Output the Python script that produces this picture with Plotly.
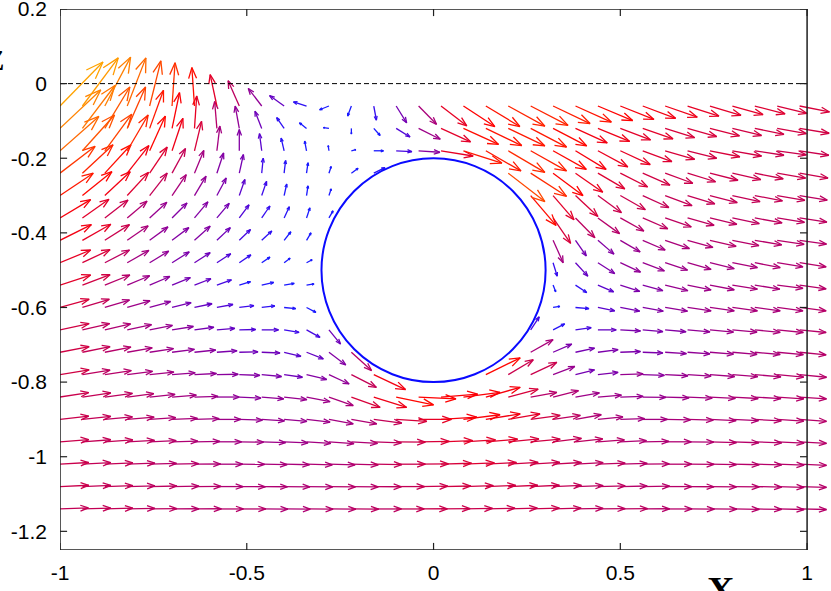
import numpy as np
import plotly.graph_objects as go

# ---------------- data (arrow tails on a regular grid, components in units of 0.01) -------------
x_grid = [-1.00, -0.94, -0.88, -0.82, -0.76, -0.70, -0.64, -0.58, -0.52, -0.46, -0.40, -0.34,
          -0.28, -0.22, -0.16, -0.10, -0.04, 0.02, 0.08, 0.14, 0.20, 0.26, 0.32, 0.38, 0.44,
          0.50, 0.56, 0.62, 0.68, 0.74, 0.80, 0.86, 0.92, 0.98]
y_grid = [-0.06, -0.12, -0.18, -0.24, -0.30, -0.36, -0.42, -0.48, -0.54, -0.60, -0.66, -0.72,
          -0.78, -0.84, -0.90, -0.96, -1.02, -1.08, -1.14]
N = None

u_r01 = [11.5, 9.6, 6.9, 5.0, 3.0, 0.8, -0.7, -1.8, -3.0, -3.6, -3.9, -3.5, -2.5, -1.0, 0.7, 2.8, 4.8,
         6.9, 8.4, 9.1, 9.8, 10.0, 9.9, 9.6, 9.3, 9.0, 8.8, 8.6, 8.4, 8.3, 8.2, 8.1, 8.0, 8.0]
v_r01 = [11.8, 12.9, 13.1, 12.9, 12.1, 11.6, 10.3, 8.4, 6.8, 4.7, 2.8, 1.1, -1.0, -2.7, -3.8, -4.5, -4.9,
         -5.3, -5.5, -5.5, -5.4, -5.2, -4.7, -4.3, -3.9, -3.6, -3.3, -3.0, -2.7, -2.5, -2.3, -2.1, -2.0, -1.6]
u_r02 = [10.9, 8.7, 6.7, 4.9, 3.7, 2.0, 0.6, -0.6, -1.1, -1.8, -2.0, -1.9, -1.5, 0.0, 1.7, 3.7, 5.8,
         7.9, 9.4, 9.6, 9.8, 9.6, 9.0, 8.5, 8.5, 8.1, 8.1, 7.9, 7.8, 7.9, 7.8, 7.8, 7.8, 7.9]
v_r02 = [10.3, 11.5, 11.1, 11.1, 10.2, 9.6, 8.7, 7.2, 6.0, 4.6, 2.9, 1.5, 0.2, -1.5, -1.9, -2.3, -2.9,
         -3.6, -4.3, -4.6, -4.7, -5.0, -4.7, -3.9, -3.5, -3.1, -2.8, -2.5, -2.2, -2.0, -1.9, -1.6, -1.4, -1.3]
u_r03 = [10.4, 8.6, 7.2, 5.6, 4.2, 2.9, 1.9, 0.8, 0.0, -0.6, -0.8, -0.5, -0.2, 1.2, 2.6, 4.2, 5.7,
         8.6, 10.3, 9.4, 9.8, 9.6, 8.9, 8.2, 8.0, 8.0, 7.8, 7.9, 7.8, 8.0, 7.8, 7.8, 7.8, 7.8]
v_r03 = [9.2, 9.6, 9.8, 9.6, 9.3, 8.7, 7.9, 6.6, 5.7, 4.6, 3.4, 2.6, 1.4, 0.3, 0.0, -0.2, -0.4,
         -1.4, -3.3, -5.4, -5.8, -5.4, -5.0, -5.0, -4.3, -3.7, -2.9, -2.3, -2.0, -1.6, -1.4, -1.2, -1.1, -1.2]
u_r04 = [9.4, 8.2, 7.0, 5.8, 4.7, 3.6, 2.5, 1.8, 1.1, 0.4, 0.4, 0.4, 0.6, 1.8, 3.0, N, N, N, N, N,
         9.8, 9.6, 8.0, 7.3, 7.2, 7.3, 7.3, 7.4, 7.5, 7.5, 7.6, 7.6, 7.6, 7.6]
v_r04 = [7.2, 7.6, 7.6, 7.4, 7.0, 6.6, 6.1, 5.4, 5.0, 4.0, 3.4, 2.8, 1.8, 1.3, 1.5, N, N, N, N, N,
         -7.6, -6.2, -6.0, -5.1, -4.2, -3.7, -3.2, -2.7, -2.3, -1.9, -1.7, -1.5, -1.3, -1.3]
u_r05 = [8.9, 7.9, 6.8, 5.7, 4.7, 3.8, 3.1, 2.5, 1.5, 1.3, 0.7, 0.4, 0.6, N, N, N, N, N, N, N, N,
         6.8, 5.6, 6.0, 6.3, 6.7, 7.0, 7.2, 7.3, 7.3, 7.4, 7.4, 7.4, 7.4]
v_r05 = [6.0, 6.4, 6.4, 6.2, 6.0, 5.6, 5.2, 4.7, 4.3, 3.8, 3.1, 2.6, 1.8, N, N, N, N, N, N, N, N,
         -8.0, -6.5, -5.6, -4.6, -3.8, -3.2, -2.7, -2.2, -1.9, -1.6, -1.4, -1.3, -1.2]
u_r06 = [8.2, 7.1, 6.2, 5.3, 4.6, 4.0, 3.6, 3.3, 2.6, 2.2, 1.4, 0.9, 1.1, N, N, N, N, N, N, N, N, N,
         4.7, 5.2, 5.8, 6.3, 6.7, 7.0, 7.1, 7.2, 7.2, 7.3, 7.3, 7.3]
v_r06 = [4.9, 5.0, 4.8, 4.5, 4.2, 4.0, 4.3, 3.9, 3.5, 3.2, 3.0, 2.7, 1.9, N, N, N, N, N, N, N, N, N,
         -6.8, -5.3, -4.2, -3.5, -2.9, -2.4, -2.0, -1.7, -1.5, -1.3, -1.2, -1.1]
u_r07 = [8.4, 7.6, 6.6, 5.6, 4.9, 4.5, 4.2, 3.6, 3.0, 2.7, 1.8, 1.2, N, N, N, N, N, N, N, N, N, N,
         2.7, 2.9, 4.3, 5.3, 6.0, 6.5, 6.8, 7.0, 7.1, 7.2, 7.2, 7.2]
v_r07 = [4.2, 4.3, 4.2, 3.9, 3.6, 3.4, 3.8, 3.4, 2.9, 2.5, 2.3, 2.0, N, N, N, N, N, N, N, N, N, N,
         -6.0, -4.2, -3.7, -3.1, -2.6, -2.2, -1.9, -1.6, -1.4, -1.2, -1.1, -1.0]
u_r08 = [8.2, 7.4, 6.6, 5.8, 5.1, 4.6, 4.2, 3.7, 3.1, 2.2, 1.6, 1.5, N, N, N, N, N, N, N, N, N, N,
         1.1, 3.3, 4.5, 5.4, 5.8, 6.0, 6.3, 6.5, 6.7, 6.8, 6.9, 7.1]
v_r08 = [3.4, 3.5, 3.4, 3.3, 3.1, 2.9, 2.7, 2.4, 2.1, 1.5, 1.2, 0.8, N, N, N, N, N, N, N, N, N, N,
         -3.6, -3.6, -2.9, -2.5, -2.2, -2.0, -1.8, -1.6, -1.3, -1.3, -1.1, -1.1]
u_r09 = [8.2, 7.4, 6.7, 6.0, 5.4, 4.9, 4.4, 3.9, 3.0, 3.2, 2.7, 2.0, N, N, N, N, N, N, N, N, N, N,
         0.7, 3.0, 4.2, 5.2, 5.4, 6.1, 6.3, 6.5, 6.7, 6.7, 6.9, 7.1]
v_r09 = [2.7, 2.8, 2.7, 2.5, 2.3, 2.0, 1.7, 1.4, 0.9, 0.7, 0.45, 0.3, N, N, N, N, N, N, N, N, N, N,
         -1.8, -2.0, -1.8, -1.7, -1.5, -1.5, -1.3, -1.25, -1.1, -1.1, -0.9, -1.0]
u_r10 = [7.8, 7.2, 6.6, 6.1, 5.6, 5.1, 4.7, 4.3, 3.9, 3.5, 3.1, 2.5, N, N, N, N, N, N, N, N, N, N,
         1.8, 3.6, 4.5, 5.2, 5.5, 6.0, 6.3, 6.5, 6.7, 6.8, 6.9, 7.1]
v_r10 = [2.2, 2.2, 2.0, 1.8, 1.6, 1.3, 1.0, 0.8, 0.5, 0.45, -0.3, -1.3, N, N, N, N, N, N, N, N, N, N,
         0.3, -0.3, -0.9, -1.0, -1.0, -1.0, -0.9, -0.9, -0.9, -0.9, -0.9, -0.9]
u_r11 = [7.8, 7.3, 6.9, 6.5, 6.1, 5.7, 5.2, 4.8, 4.4, 4.5, 4.0, 3.6, 3.1, N, N, N, N, N, N, N, N,
         2.3, 3.1, 4.2, 4.9, 5.4, 5.4, 5.6, 6.0, 6.3, 6.6, 6.8, 7.0, 7.1]
v_r11 = [1.7, 1.7, 1.6, 1.4, 1.2, 0.9, 0.7, 0.4, 0.1, 0.0, -0.7, -2.0, -3.8, N, N, N, N, N, N, N, N,
         3.5, 1.6, 0.6, 0.0, -0.3, -0.45, -0.5, -0.55, -0.6, -0.6, -0.65, -0.7, -0.7]
u_r12 = [7.8, 7.4, 7.0, 6.7, 6.4, 6.0, 5.7, 5.4, 5.0, 4.9, 4.5, 4.5, 4.5, 5.4, N, N, N, N, N, N, N,
         6.0, 5.0, 5.1, 5.4, 5.4, 5.4, 5.7, 6.0, 6.3, 6.6, 6.8, 7.0, 7.1]
v_r12 = [1.5, 1.5, 1.4, 1.2, 1.0, 0.8, 0.6, 0.4, 0.1, -0.2, -1.1, -1.8, -3.4, -4.9, N, N, N, N, N, N, N,
         3.4, 2.2, 1.1, 0.7, 0.2, -0.2, -0.35, -0.45, -0.5, -0.55, -0.6, -0.65, -0.7]
u_r13 = [7.8, 7.4, 7.1, 6.8, 6.5, 6.2, 5.9, 5.7, 5.5, 5.3, 4.9, 5.4, 5.4, 6.7, 8.5, N, N, N, N,
         9.2, 6.7, 7.0, 5.8, 5.1, 5.4, 6.1, 5.8, 6.1, 6.3, 6.6, 6.8, 7.0, 7.1, 7.2]
v_r13 = [1.3, 1.2, 1.1, 0.9, 0.7, 0.5, 0.3, 0.1, -0.2, -0.5, -0.7, -1.3, -2.5, -3.4, -4.0, N, N, N, N,
         4.5, 4.0, 3.3, 2.2, 1.3, 0.6, 0.2, -0.2, -0.3, -0.4, -0.5, -0.55, -0.6, -0.65, -0.7]
u_r14 = [7.7, 7.6, 7.4, 7.1, 6.8, 6.5, 6.3, 6.0, 5.8, 5.9, 6.1, 6.3, 6.5, 7.7, 8.8, 10.0, 10.0,
         9.8, 9.8, 9.2, 8.0, 7.0, 6.8, 6.4, 6.3, 6.1, 6.2, 6.4, 6.6, 6.8, 6.9, 7.0, 7.1, 7.2]
v_r14 = [1.2, 1.1, 1.0, 0.9, 0.7, 0.5, 0.2, 0.0, -0.3, -0.5, -0.7, -1.25, -2.3, -2.8, -2.8, -2.1, -0.5,
         0.8, 1.25, 2.6, 2.1, 1.25, 1.7, 1.1, 0.5, 0.2, -0.1, -0.2, -0.3, -0.35, -0.4, -0.45, -0.5, -0.5]
u_r15 = [7.7, 7.6, 7.4, 7.2, 7.0, 6.8, 6.6, 6.4, 6.2, 6.1, 6.1, 6.3, 6.5, 6.8, 7.5, 8.2, 8.8,
         9.6, 9.8, 9.2, 8.5, 7.9, 7.3, 6.9, 6.7, 6.5, 6.6, 6.8, 6.9, 7.0, 7.0, 7.1, 7.1, 7.2]
v_r15 = [0.9, 0.8, 0.7, 0.6, 0.5, 0.3, 0.2, 0.0, -0.2, -0.4, -0.5, -0.7, -1.2, -1.2, -1.0, -0.5, 0.0,
         0.6, 1.25, 1.5, 1.5, 1.1, 1.1, 1.25, 0.7, 0.2, 0.0, -0.1, -0.2, -0.3, -0.35, -0.4, -0.45, -0.5]
u_r16 = [7.7, 7.6, 7.5, 7.3, 7.1, 6.9, 6.8, 6.6, 6.5, 6.4, 6.4, 6.5, 6.7, 7.0, 7.4, 7.8, 8.2,
         8.5, 8.6, 8.5, 8.2, 7.9, 7.6, 7.3, 7.1, 7.0, 7.0, 7.0, 7.0, 7.1, 7.1, 7.2, 7.2, 7.2]
v_r16 = [0.6, 0.55, 0.5, 0.4, 0.3, 0.2, 0.1, 0.0, -0.1, -0.2, -0.3, -0.4, -0.5, -0.4, -0.3, -0.1, 0.1,
         0.3, 0.5, 0.7, 0.8, 0.7, 0.9, 0.8, 0.5, 0.3, 0.1, 0.0, -0.1, -0.2, -0.25, -0.3, -0.35, -0.4]
u_r17 = [7.7, 7.6, 7.5, 7.4, 7.2, 7.1, 7.0, 6.9, 6.8, 6.8, 6.8, 6.9, 7.0, 7.2, 7.5, 7.8, 8.0,
         8.2, 8.3, 8.2, 8.0, 7.8, 7.6, 7.4, 7.3, 7.2, 7.1, 7.1, 7.1, 7.1, 7.2, 7.2, 7.2, 7.2]
v_r17 = [0.45, 0.4, 0.35, 0.3, 0.2, 0.15, 0.05, 0.0, -0.05, -0.1, -0.15, -0.2, -0.2, -0.2, -0.1, 0.0,
         0.1, 0.25, 0.35, 0.45, 0.5, 0.5, 0.45, 0.4, 0.3, 0.2, 0.1, 0.0, -0.05, -0.1, -0.15, -0.2, -0.25, -0.3]
u_r18 = [7.7, 7.6, 7.5, 7.4, 7.3, 7.2, 7.1, 7.0, 7.0, 6.9, 6.9, 7.0, 7.1, 7.2, 7.4, 7.6, 7.8,
         8.0, 8.0, 8.0, 7.9, 7.7, 7.6, 7.4, 7.3, 7.2, 7.2, 7.1, 7.1, 7.1, 7.2, 7.2, 7.2, 7.2]
v_r18 = [0.35, 0.3, 0.25, 0.2, 0.15, 0.1, 0.05, 0.0, -0.05, -0.05, -0.1, -0.1, -0.1, -0.1, -0.05, 0.0,
         0.1, 0.15, 0.25, 0.3, 0.35, 0.35, 0.3, 0.25, 0.2, 0.15, 0.1, 0.0, -0.05, -0.1, -0.1, -0.15, -0.2, -0.2]
u_r19 = [7.6, 7.6, 7.5, 7.4, 7.3, 7.2, 7.2, 7.1, 7.1, 7.0, 7.0, 7.1, 7.2, 7.3, 7.4, 7.5, 7.7,
         7.8, 7.8, 7.8, 7.8, 7.7, 7.5, 7.4, 7.3, 7.3, 7.2, 7.2, 7.2, 7.2, 7.2, 7.2, 7.2, 7.2]
v_r19 = [0.3, 0.25, 0.2, 0.15, 0.1, 0.05, 0.05, 0.0, 0.0, -0.05, -0.05, -0.05, -0.05, -0.05, 0.0, 0.0,
         0.05, 0.1, 0.15, 0.2, 0.2, 0.25, 0.2, 0.15, 0.1, 0.1, 0.05, 0.0, -0.05, -0.05, -0.1, -0.1, -0.15, -0.15]

U_ROWS = [u_r01, u_r02, u_r03, u_r04, u_r05, u_r06, u_r07, u_r08, u_r09, u_r10,
          u_r11, u_r12, u_r13, u_r14, u_r15, u_r16, u_r17, u_r18, u_r19]
V_ROWS = [v_r01, v_r02, v_r03, v_r04, v_r05, v_r06, v_r07, v_r08, v_r09, v_r10,
          v_r11, v_r12, v_r13, v_r14, v_r15, v_r16, v_r17, v_r18, v_r19]
UNIT = 0.01

x_ticks = [-1, -0.5, 0, 0.5, 1]
x_tick_text = ["-1", "-0.5", "0", "0.5", "1"]
y_ticks = [0.2, 0, -0.2, -0.4, -0.6, -0.8, -1, -1.2]
y_tick_text = ["0.2", "0", "-0.2", "-0.4", "-0.6", "-0.8", "-1", "-1.2"]

cyl_center = (0.0, -0.5)
cyl_radius = 0.3
surface_y = 0.0

# ---------------- colour map: arrow length -> palette (blue -> purple -> red -> orange) ----------------
stop_len = [3.0, 4.0, 5.0, 6.0, 7.0, 7.6, 8.5, 10.0, 12.5, 16.5]
stop_rgb = [(25, 25, 255), (60, 10, 235), (110, 0, 185), (145, 0, 150), (175, 0, 115),
            (195, 0, 85), (225, 0, 45), (255, 0, 0), (255, 75, 0), (255, 165, 0)]


def colour_for(L):
    r = np.interp(L, stop_len, [c[0] for c in stop_rgb])
    g = np.interp(L, stop_len, [c[1] for c in stop_rgb])
    b = np.interp(L, stop_len, [c[2] for c in stop_rgb])
    return "rgb(%d,%d,%d)" % (round(r), round(g), round(b))


# ---------------- build arrow geometry ----------------
HEAD_FRAC = 0.3
HEAD_ANG = np.deg2rad(20)
bins = {}
for yv, urow, vrow in zip(y_grid, U_ROWS, V_ROWS):
    for xv, u, v in zip(x_grid, urow, vrow):
        if u is None or v is None:
            continue
        L = float(np.hypot(u, v))
        key = round(L * 5) / 5.0
        du, dv = u * UNIT, v * UNIT
        tx, ty = xv + du, yv + dv
        th = np.arctan2(dv, du)
        h = HEAD_FRAC * L * UNIT
        b1 = (tx - h * np.cos(th - HEAD_ANG), ty - h * np.sin(th - HEAD_ANG))
        b2 = (tx - h * np.cos(th + HEAD_ANG), ty - h * np.sin(th + HEAD_ANG))
        xs, ys = bins.setdefault(key, ([], []))
        xs += [xv, tx, None, b1[0], tx, b2[0], None]
        ys += [yv, ty, None, b1[1], ty, b2[1], None]

fig = go.Figure()
for key in sorted(bins):
    xs, ys = bins[key]
    fig.add_trace(go.Scatter(x=xs, y=ys, mode="lines", hoverinfo="skip", showlegend=False,
                             line=dict(color=colour_for(key), width=1.3)))

X0, X1 = -1.0, 1.0
Y0, Y1 = -1.25, 0.2
XR = [-1.0, 1.064]
tick_len = 0.019

shapes = [
    dict(type="line", xref="x", yref="y", x0=X0, x1=X1, y0=surface_y, y1=surface_y,
         line=dict(color="black", width=1, dash="5px,3px")),
    dict(type="circle", xref="x", yref="y", layer="above",
         x0=cyl_center[0] - cyl_radius, x1=cyl_center[0] + cyl_radius,
         y0=cyl_center[1] - cyl_radius, y1=cyl_center[1] + cyl_radius,
         line=dict(color="#0a0aff", width=2)),
    dict(type="rect", xref="x", yref="y", x0=X0, x1=X1, y0=Y0, y1=Y1, layer="above",
         line=dict(color="#202020", width=1.5)),
]
for t in y_ticks:
    shapes.append(dict(type="line", xref="x", yref="y", x0=X1 - tick_len, x1=X1, y0=t, y1=t,
                       layer="above", line=dict(color="#202020", width=1.2)))
    shapes.append(dict(type="line", xref="x", yref="y", x0=X0, x1=X0 + tick_len, y0=t, y1=t,
                       layer="above", line=dict(color="#202020", width=1.2)))
for t in x_ticks:
    shapes.append(dict(type="line", xref="x", yref="y", x0=t, x1=t, y0=Y1 - tick_len, y1=Y1,
                       layer="above", line=dict(color="#202020", width=1.2)))
    shapes.append(dict(type="line", xref="x", yref="y", x0=t, x1=t, y0=Y0, y1=Y0 + tick_len,
                       layer="above", line=dict(color="#202020", width=1.2)))

font = dict(family="Liberation Sans, Arial, sans-serif", size=21, color="black")
fig.update_layout(
    width=831, height=591,
    margin=dict(l=60, r=0, t=9, b=41, autoexpand=False),
    paper_bgcolor="white", plot_bgcolor="white",
    shapes=shapes,
    xaxis=dict(range=XR, showgrid=False, zeroline=False, showline=False, ticks="",
               tickvals=x_ticks, ticktext=x_tick_text, tickfont=font, ticklabelstandoff=8,
               automargin=False, ticklabeloverflow="allow"),
    yaxis=dict(range=[Y0, Y1], showgrid=False, zeroline=False, showline=False, ticks="",
               tickvals=y_ticks, ticktext=y_tick_text, tickfont=font, ticklabelstandoff=12,
               automargin=False, ticklabeloverflow="allow"),
    annotations=[
        dict(text="<b>X</b>", xref="paper", yref="paper", x=0.857, y=-0.032, xanchor="center",
             yanchor="top", showarrow=False,
             font=dict(family="Liberation Serif, Times New Roman, serif", size=38, color="black")),
        dict(text="<b>Z</b>", xref="paper", yref="paper", x=-0.070, y=0.905, xanchor="right",
             yanchor="middle", showarrow=False,
             font=dict(family="Liberation Serif, Times New Roman, serif", size=29, color="black")),
    ],
)

# remove the page's default body margin so the figure sits at the window's top-left corner
fig.write_html("out.html", config={"displayModeBar": False},
               post_script="document.body.style.margin='0px';")
